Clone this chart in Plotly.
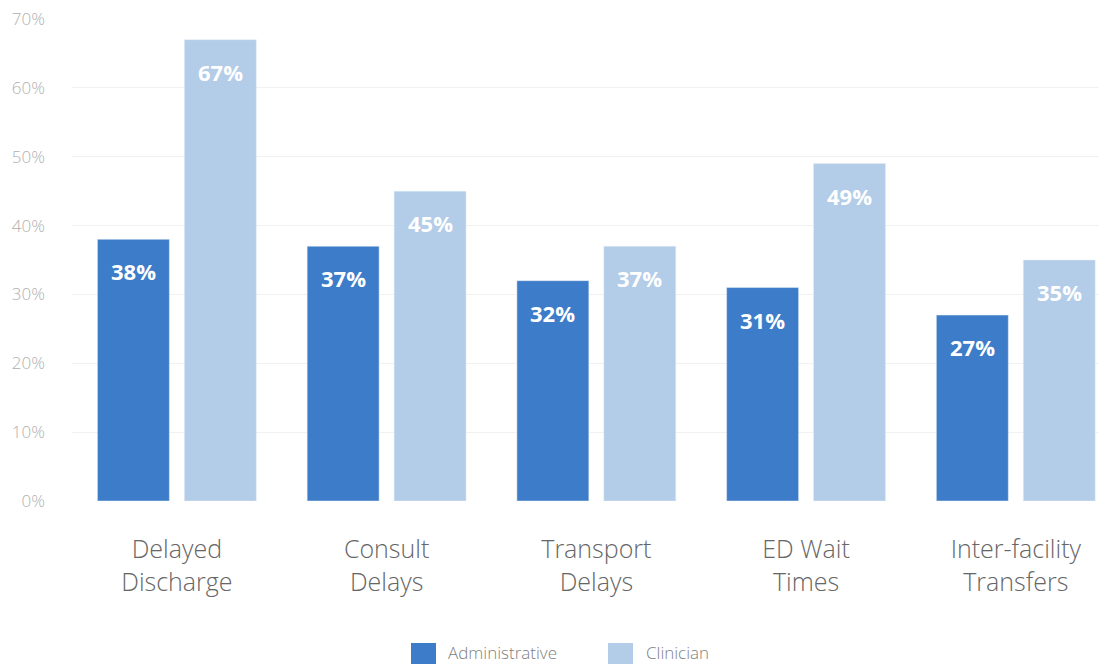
import plotly.graph_objects as go

categories = ["Delayed<br>Discharge", "Consult<br>Delays", "Transport<br>Delays", "ED Wait<br>Times", "Inter-facility<br>Transfers"]
administrative = [38, 37, 32, 31, 27]
clinician = [67, 45, 37, 49, 35]
tick_vals = [0, 10, 20, 30, 40, 50, 60, 70]
tick_text = ["0%", "10%", "20%", "30%", "40%", "50%", "60%", "70%"]
series_names = ["Administrative", "Clinician"]

ADMIN_C = "#3d7cc9"
CLIN_C = "#b3cce8"
BW = 0.343
GAP = 0.0715
FONT = "Open Sans, Lato, sans-serif"

# layout geometry (page has 8px body offset)
OFF = 8
ML, MT, MB = 64, 11, 171
W, H = 1107, 664
PW = W - ML
PH = H - MT - MB


def px(xp):
    return (xp - OFF - ML) / PW


def py(yp):
    return (H - MB - (yp - OFF)) / PH


x_idx = list(range(len(categories)))

fig = go.Figure()
fig.add_trace(go.Bar(name=series_names[0], x=x_idx, y=administrative, marker_color=ADMIN_C,
                     width=BW, offset=-(BW + GAP / 2), hoverinfo="y", showlegend=False))
fig.add_trace(go.Bar(name=series_names[1], x=x_idx, y=clinician, marker_color=CLIN_C,
                     width=BW, offset=GAP / 2, hoverinfo="y", showlegend=False))

annotations = []
for i, (a, c) in enumerate(zip(administrative, clinician)):
    for val, xo in ((a, -(BW + GAP) / 2), (c, (BW + GAP) / 2)):
        annotations.append(dict(x=i + xo, y=val, xref="x", yref="y", text=f"<b>{val}%</b>",
                                showarrow=False, yshift=-32,
                                font=dict(family=FONT, size=22, color="white")))

# custom legend (large square swatches)
shapes = []
legend_items = [(series_names[0], ADMIN_C, 411, 446), (series_names[1], CLIN_C, 608, 644)]
for name, col, sx, tx in legend_items:
    shapes.append(dict(type="rect", xref="paper", yref="paper",
                       x0=px(sx), x1=px(sx + 25), y0=py(668), y1=py(643),
                       fillcolor=col, line=dict(width=0)))
    annotations.append(dict(xref="paper", yref="paper", x=px(tx), y=py(652),
                            xanchor="left", yanchor="middle", text=name, showarrow=False,
                            font=dict(family=FONT, size=17, color="#808080", weight=300)))

fig.update_layout(
    width=W, height=H,
    margin=dict(l=ML, r=0, t=MT, b=MB),
    paper_bgcolor="white", plot_bgcolor="white",
    barmode="group",
    showlegend=False,
    annotations=annotations,
    shapes=shapes,
    xaxis=dict(tickmode="array", tickvals=x_idx, ticktext=categories, range=[-0.5, 4.473],
               showgrid=False, zeroline=False, showline=False, ticks="", automargin=False,
               ticklabelstandoff=31,
               tickfont=dict(family=FONT, size=25, color="#666666", weight=300)),
    yaxis=dict(range=[0, 70], tickmode="array", tickvals=tick_vals, ticktext=tick_text,
               showgrid=True, gridcolor="#f1f1f1", gridwidth=1, zeroline=False, showline=False,
               ticks="", ticklabelstandoff=26, automargin=False, ticklabeloverflow="allow",
               tickfont=dict(family=FONT, size=17, color="#b0b0b0", weight=300)),
    font=dict(family=FONT),
)

fig.write_html("out.html")
